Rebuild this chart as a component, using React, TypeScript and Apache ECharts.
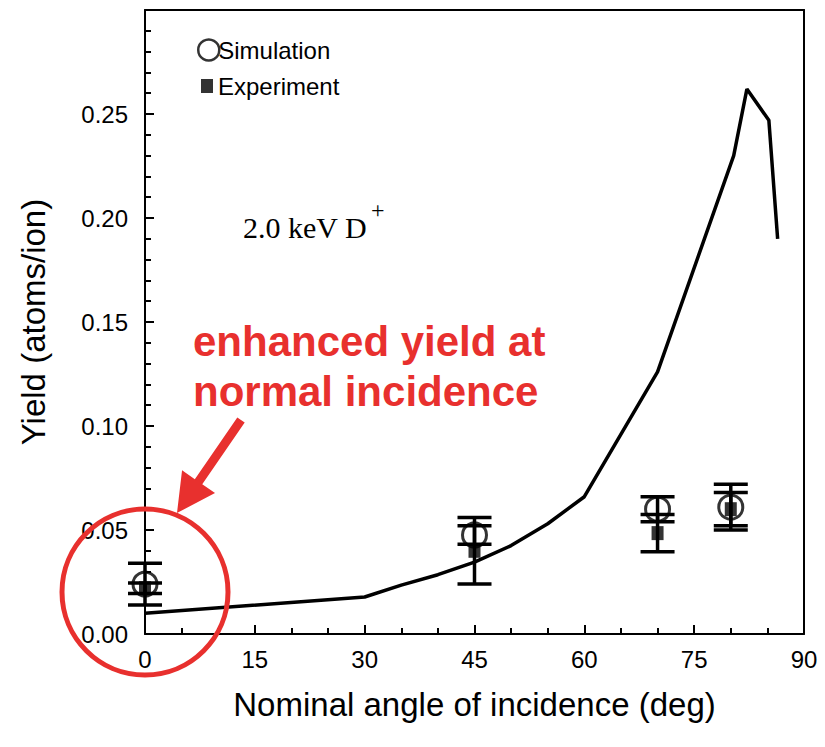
import React, { useEffect, useRef } from "react";
import * as echarts from "echarts";

// Simulated sputtering yield curve vs. nominal angle (deg)
const simCurveAngle = [0, 30, 35, 40, 45, 50, 55, 60, 70, 80.4, 82.2, 85.2, 86.4];
const simCurveYield = [0.01, 0.0178, 0.0235, 0.0285, 0.0346, 0.0425, 0.053, 0.066, 0.126, 0.23, 0.262, 0.247, 0.19];

// Discrete points with error bars
const markerAngle = [0, 45, 70, 80];
const simYield = [0.024, 0.0476, 0.06, 0.061];
const simErr = [0.01, 0.0045, 0.006, 0.011];
const expYield = [0.022, 0.04, 0.0485, 0.06];
const expErr = [0.0025, 0.016, 0.009, 0.008];

const RED = "#e8302e";
const SANS = "'Liberation Sans', Arial, Helvetica, sans-serif";
const SERIF = "'Liberation Serif', 'Times New Roman', serif";

export default function App() {
  const ref = useRef<HTMLDivElement>(null);

  useEffect(() => {
    document.body.style.margin = "0";
    const chart = echarts.init(ref.current!, null, { renderer: "svg" });

    const errData = (vals: number[], errs: number[]) =>
      markerAngle.map((a, i) => [a, vals[i] - errs[i], vals[i] + errs[i]]);

    const renderErr = (_params: any, api: any) => {
      const lo = api.coord([api.value(0), api.value(1)]);
      const hi = api.coord([api.value(0), api.value(2)]);
      const w = 17;
      const style = { stroke: "#000", lineWidth: 3.5, fill: "none" };
      return {
        type: "group",
        children: [
          { type: "line", shape: { x1: lo[0], y1: lo[1], x2: hi[0], y2: hi[1] }, style },
          { type: "line", shape: { x1: lo[0] - w, y1: lo[1], x2: lo[0] + w, y2: lo[1] }, style },
          { type: "line", shape: { x1: hi[0] - w, y1: hi[1], x2: hi[0] + w, y2: hi[1] }, style },
        ],
      };
    };

    // red arrow pointing at the normal-incidence points
    const tip = [177, 513];
    const start = [241, 420];
    const dx = tip[0] - start[0];
    const dy = tip[1] - start[1];
    const len = Math.hypot(dx, dy);
    const ux = dx / len, uy = dy / len;
    const nx = -uy, ny = ux;
    const headLen = 38, headHalf = 20, shaftHalf = 4.5;
    const bx = tip[0] - ux * headLen, by = tip[1] - uy * headLen;
    const arrowPts = [
      [start[0] + nx * shaftHalf, start[1] + ny * shaftHalf],
      [bx + nx * shaftHalf, by + ny * shaftHalf],
      [bx + nx * headHalf, by + ny * headHalf],
      tip,
      [bx - nx * headHalf, by - ny * headHalf],
      [bx - nx * shaftHalf, by - ny * shaftHalf],
      [start[0] - nx * shaftHalf, start[1] - ny * shaftHalf],
    ];

    chart.setOption({
      animation: false,
      backgroundColor: "#fff",
      grid: { left: 145, top: 10, right: 21, bottom: 113, show: false },
      legend: [
        {
          data: ["Simulation"],
          left: 192,
          top: 33,
          itemWidth: 21,
          itemHeight: 21,
          itemGap: 0,
          itemStyle: { borderWidth: 2.5, borderColor: "#000", color: "rgba(0,0,0,0)" },
          textStyle: { fontFamily: SANS, fontSize: 24, color: "#000", padding: [0, 0, 0, -6] },
        },
        {
          data: ["Experiment"],
          left: 196,
          top: 69,
          itemWidth: 12,
          itemHeight: 14,
          textStyle: { fontFamily: SANS, fontSize: 24, color: "#000", padding: [0, 0, 0, 0] },
        },
      ],
      xAxis: [
        {
          type: "value",
          min: 0,
          max: 90,
          interval: 15,
          name: "Nominal angle of incidence (deg)",
          nameLocation: "middle",
          nameGap: 54,
          nameTextStyle: { fontFamily: SANS, fontSize: 33, color: "#000" },
          axisLine: { onZero: false, lineStyle: { color: "#000", width: 2 } },
          axisTick: { inside: true, length: 9, lineStyle: { color: "#000", width: 2 } },
          minorTick: { show: true, splitNumber: 3, length: 6, lineStyle: { color: "#000", width: 2 } },
          axisLabel: { fontFamily: SANS, fontSize: 24, color: "#000", margin: 13 },
          splitLine: { show: false },
        },
        {
          type: "value",
          position: "top",
          min: 0,
          max: 90,
          interval: 15,
          axisLine: { onZero: false, lineStyle: { color: "#000", width: 2 } },
          axisTick: { show: false },
          axisLabel: { show: false },
          splitLine: { show: false },
        },
      ],
      yAxis: [
        {
          type: "value",
          min: 0,
          max: 0.3,
          interval: 0.05,
          name: "Yield (atoms/ion)",
          nameLocation: "middle",
          nameGap: 95,
          nameTextStyle: { fontFamily: SANS, fontSize: 33, color: "#000" },
          axisLine: { show: true, onZero: false, lineStyle: { color: "#000", width: 2 } },
          axisTick: { show: true, inside: true, length: 9, lineStyle: { color: "#000", width: 2 } },
          minorTick: { show: true, splitNumber: 5, length: 6, lineStyle: { color: "#000", width: 2 } },
          axisLabel: {
            fontFamily: SANS,
            fontSize: 24,
            color: "#000",
            margin: 17,
            formatter: (v: number) => (v > 0.29 ? "" : v.toFixed(2)),
          },
          splitLine: { show: false },
        },
        {
          type: "value",
          position: "right",
          min: 0,
          max: 0.3,
          interval: 0.05,
          axisLine: { show: true, onZero: false, lineStyle: { color: "#000", width: 2 } },
          axisTick: { show: false },
          axisLabel: { show: false },
          splitLine: { show: false },
        },
      ],
      series: [
        {
          name: "curve",
          type: "line",
          data: simCurveAngle.map((a, i) => [a, simCurveYield[i]]),
          symbol: "none",
          lineStyle: { color: "#000", width: 3.5 },
          z: 2,
        },
        {
          name: "simErr",
          type: "custom",
          data: errData(simYield, simErr),
          renderItem: renderErr,
          encode: { x: 0, y: [1, 2] },
          clip: false,
          z: 3,
        },
        {
          name: "expErr",
          type: "custom",
          data: errData(expYield, expErr),
          renderItem: renderErr,
          encode: { x: 0, y: [1, 2] },
          clip: false,
          z: 3,
        },
        {
          name: "Experiment",
          type: "scatter",
          data: markerAngle.map((a, i) => [a, expYield[i]]),
          symbol: "rect",
          symbolSize: [12, 14],
          itemStyle: { color: "#000" },
          clip: false,
          z: 4,
        },
        {
          name: "Simulation",
          type: "scatter",
          data: markerAngle.map((a, i) => [a, simYield[i]]),
          symbol: "circle",
          symbolSize: 24,
          itemStyle: { color: "rgba(0,0,0,0)", borderColor: "#000", borderWidth: 3 },
          clip: false,
          z: 5,
        },
      ],
      graphic: [
        {
          type: "text",
          left: 243,
          top: 212,
          style: { text: "2.0 keV D", fontFamily: SERIF, fontSize: 30, fill: "#000" },
        },
        {
          type: "text",
          left: 371,
          top: 198,
          style: { text: "+", fontFamily: SERIF, fontSize: 24, fill: "#000" },
        },
        {
          type: "text",
          left: 193,
          top: 316,
          style: {
            text: "enhanced yield at\nnormal incidence",
            fontFamily: SANS,
            fontWeight: "bold",
            fontSize: 42,
            lineHeight: 50,
            fill: RED,
          },
        },
        {
          type: "polygon",
          shape: { points: arrowPts },
          style: { fill: RED },
          z: 10,
        },
        {
          type: "ellipse",
          shape: { cx: 145, cy: 592, rx: 83, ry: 83 },
          style: { fill: "none", stroke: RED, lineWidth: 5 },
          z: 10,
        },
      ],
    });

    return () => chart.dispose();
  }, []);

  return <div ref={ref} style={{ width: 825, height: 747 }} />;
}
